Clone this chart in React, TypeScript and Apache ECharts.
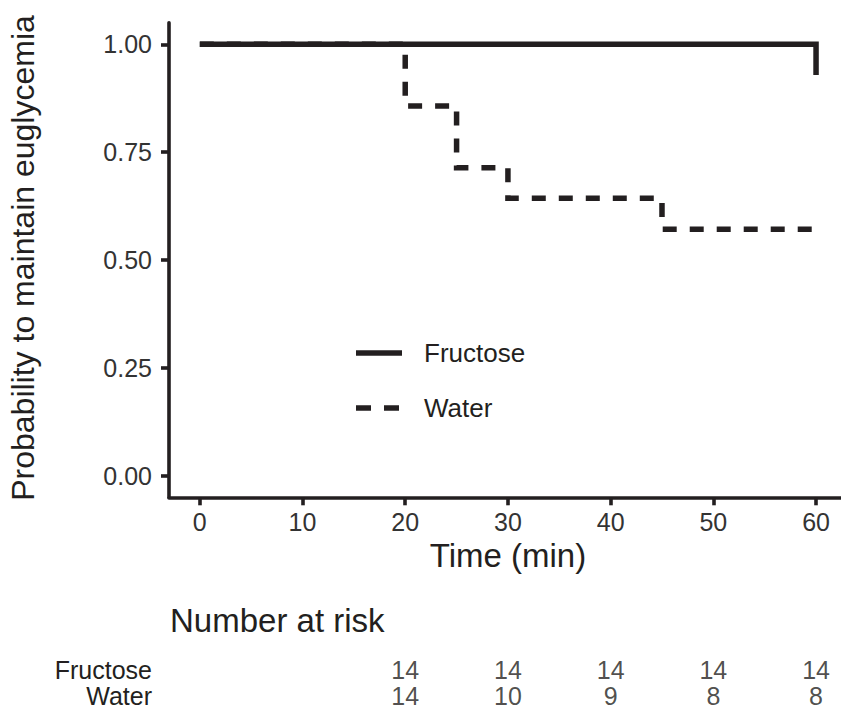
import React, { useEffect, useRef } from "react";
import * as echarts from "echarts";

// Kaplan–Meier step data
const fructoseTimes = [0, 60];
const fructoseSurv = [1.0, 0.929];
const waterTimes = [0, 20, 25, 30, 45, 60];
const waterSurv = [1.0, 0.857, 0.714, 0.643, 0.571, 0.571];

// Axis ticks
const xTicks = [0, 10, 20, 30, 40, 50, 60];
const yTicks = [0, 0.25, 0.5, 0.75, 1.0];

// Number at risk table
const riskTimes = [20, 30, 40, 50, 60];
const riskGroups = ["Fructose", "Water"];
const fructoseRisk = [14, 14, 14, 14, 14];
const waterRisk = [14, 10, 9, 8, 8];

const INK = "#231f20";
const FONT = "'Liberation Sans', Arial, Helvetica, sans-serif";

export default function App() {
  const ref = useRef<HTMLDivElement>(null);
  useEffect(() => {
    document.body.style.margin = "0";
    if (!ref.current) return;
    const chart = echarts.init(ref.current, null, { renderer: "svg" });

    const gridLeft = 169;
    const xMin = -3;
    const xMax = 62.43;

    const riskData: any[] = [];
    riskTimes.forEach((t, i) => {
      riskData.push([t, "Fructose", fructoseRisk[i]]);
      riskData.push([t, "Water", waterRisk[i]]);
    });

    chart.setOption({
      animation: false,
      backgroundColor: "#ffffff",
      textStyle: { fontFamily: FONT, color: INK },
      grid: [
        { left: gridLeft, right: 0, top: 22.7, height: 474.6 },
        { left: gridLeft, right: 0, top: 656.5, height: 54 },
      ],
      xAxis: [
        {
          type: "value",
          gridIndex: 0,
          min: xMin,
          max: xMax,
          splitLine: { show: false },
          axisLine: { show: true, onZero: false, lineStyle: { color: INK, width: 3.6 } },
          axisTick: {
            show: true,
            length: 8,
            lineStyle: { color: INK, width: 3.6 },
            customValues: xTicks,
          },
          axisLabel: {
            customValues: xTicks,
            fontSize: 25,
            color: "#333333",
            fontFamily: FONT,
            margin: 12,
          },
        },
        {
          type: "value",
          gridIndex: 1,
          min: xMin,
          max: xMax,
          show: false,
        },
      ],
      yAxis: [
        {
          type: "value",
          gridIndex: 0,
          min: -0.05,
          max: 1.05,
          splitLine: { show: false },
          axisLine: { show: true, onZero: false, lineStyle: { color: INK, width: 3.6 } },
          axisTick: {
            show: true,
            length: 8,
            lineStyle: { color: INK, width: 3.6 },
            customValues: yTicks,
          },
          axisLabel: {
            customValues: yTicks,
            fontSize: 25,
            color: "#333333",
            fontFamily: FONT,
            margin: 17,
            formatter: (v: number) => v.toFixed(2),
          },
        },
        {
          type: "category",
          gridIndex: 1,
          data: riskGroups,
          inverse: true,
          axisLine: { show: false },
          axisTick: { show: false },
          splitLine: { show: false },
          axisLabel: {
            interval: 0,
            fontSize: 25,
            color: INK,
            fontFamily: FONT,
            margin: 17,
          },
        },
      ],
      series: [
        {
          name: "Water",
          type: "line",
          xAxisIndex: 0,
          yAxisIndex: 0,
          step: "end",
          symbol: "none",
          data: waterTimes.map((t, i) => [t, waterSurv[i]]),
          lineStyle: { color: INK, width: 5.5, type: [14, 13], cap: "butt", join: "miter" },
          z: 2,
        },
        {
          name: "Fructose",
          type: "line",
          xAxisIndex: 0,
          yAxisIndex: 0,
          step: "end",
          symbol: "none",
          data: fructoseTimes.map((t, i) => [t, fructoseSurv[i]]),
          lineStyle: { color: INK, width: 5.5, type: "solid", cap: "butt", join: "miter" },
          z: 3,
        },
        {
          name: "risk",
          type: "scatter",
          xAxisIndex: 1,
          yAxisIndex: 1,
          symbolSize: 0.1,
          itemStyle: { color: "#ffffff" },
          data: riskData,
          label: {
            show: true,
            position: "inside",
            fontSize: 25,
            color: INK,
            fontFamily: FONT,
            formatter: (p: any) => String(p.value[2]),
          },
          silent: true,
        },
      ],
      graphic: [
        {
          type: "text",
          x: 23,
          y: 258,
          rotation: Math.PI / 2,
          style: {
            text: "Probability to maintain euglycemia",
            fontSize: 32,
            fontFamily: FONT,
            fill: INK,
            align: "center",
            verticalAlign: "middle",
          },
        },
        {
          type: "text",
          x: 508,
          y: 555,
          style: {
            text: "Time (min)",
            fontSize: 33,
            fontFamily: FONT,
            fill: INK,
            align: "center",
            verticalAlign: "middle",
          },
        },
        {
          type: "text",
          x: 170,
          y: 620,
          style: {
            text: "Number at risk",
            fontSize: 33,
            fontFamily: FONT,
            fill: INK,
            align: "left",
            verticalAlign: "middle",
          },
        },
        {
          type: "line",
          shape: { x1: 356, y1: 353, x2: 402, y2: 353 },
          style: { stroke: INK, lineWidth: 5.5 },
        },
        {
          type: "line",
          shape: { x1: 356, y1: 408, x2: 401, y2: 408 },
          style: { stroke: INK, lineWidth: 5.5, lineDash: [15, 13] },
        },
        {
          type: "text",
          x: 424,
          y: 353,
          style: {
            text: "Fructose",
            fontSize: 26,
            fontFamily: FONT,
            fill: INK,
            align: "left",
            verticalAlign: "middle",
          },
        },
        {
          type: "text",
          x: 424,
          y: 408,
          style: {
            text: "Water",
            fontSize: 26,
            fontFamily: FONT,
            fill: INK,
            align: "left",
            verticalAlign: "middle",
          },
        },
      ],
    });

    return () => chart.dispose();
  }, []);

  return <div ref={ref} style={{ width: 841, height: 709 }} />;
}
